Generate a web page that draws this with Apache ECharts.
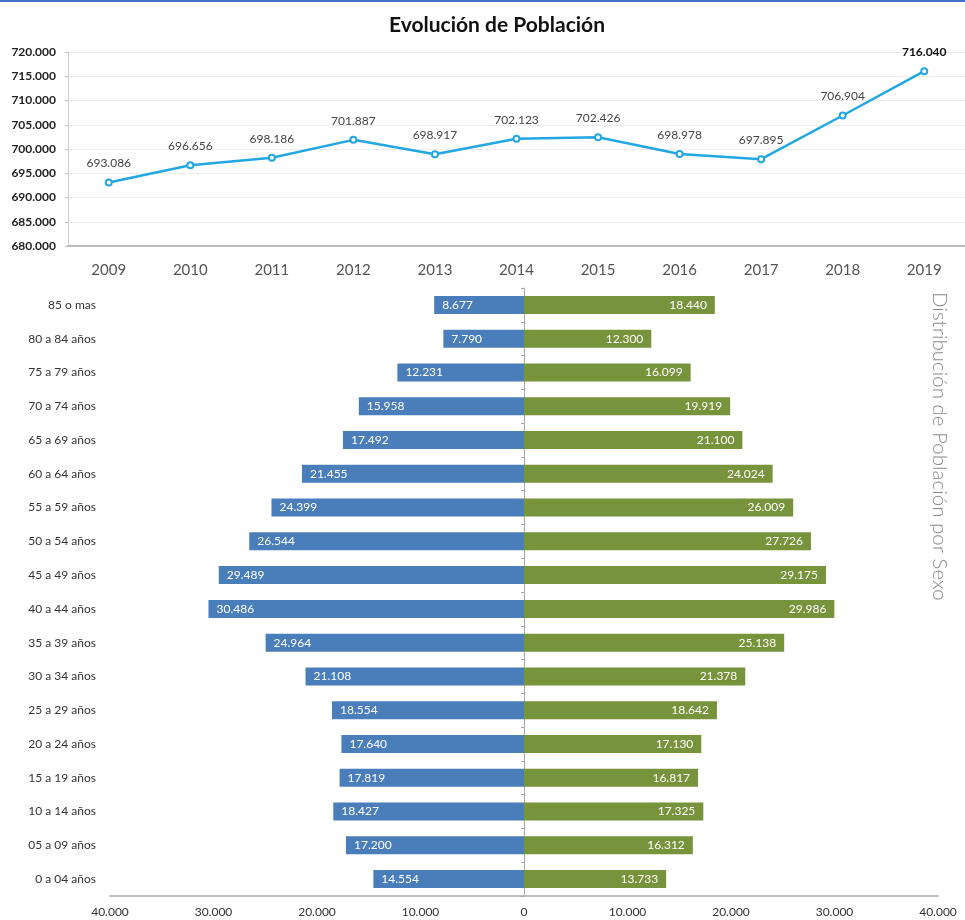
<!DOCTYPE html>
<html>
<head>
<meta charset="utf-8">
<script src="https://cdn.jsdelivr.net/npm/echarts@6/dist/echarts.min.js"></script>
<style>
  html, body { margin: 0; padding: 0; background: #fff; }
  #chart { width: 965px; height: 920px; }
</style>
</head>
<body>
<div id="chart"></div>
<script>
// evolución de población
var years = ['2009', '2010', '2011', '2012', '2013', '2014', '2015', '2016', '2017', '2018', '2019']
var poblacion = [693086, 696656, 698186, 701887, 698917, 702123, 702426, 698978, 697895, 706904, 716040]

// pirámide (de arriba a abajo)
var grupos = ['85 o mas', '80 a 84 años', '75 a 79 años', '70 a 74 años', '65 a 69 años', '60 a 64 años',
  '55 a 59 años', '50 a 54 años', '45 a 49 años', '40 a 44 años', '35 a 39 años', '30 a 34 años',
  '25 a 29 años', '20 a 24 años', '15 a 19 años', '10 a 14 años', '05 a 09 años', '0 a 04 años']
var hombres = [8677, 7790, 12231, 15958, 17492, 21455, 24399, 26544, 29489, 30486, 24964, 21108,
  18554, 17640, 17819, 18427, 17200, 14554]
var mujeres = [18440, 12300, 16099, 19919, 21100, 24024, 26009, 27726, 29175, 29986, 25138, 21378,
  18642, 17130, 16817, 17325, 16312, 13733]

function miles(n) {
  return String(Math.abs(n)).replace(/\B(?=(\d{3})+(?!\d))/g, '.')
}

var font = 'Lato'
var chart = echarts.init(document.getElementById('chart'))

var lineData = poblacion.map(function (v, i) {
  if (i === poblacion.length - 1) {
    return { value: v, label: { fontWeight: 'bold', color: '#111' } }
  }
  return v
})

chart.setOption({
  animation: false,
  textStyle: { fontFamily: font },
  title: {
    text: 'Evolución de Población',
    left: 384,
    top: 10,
    textStyle: { fontSize: 21, fontWeight: 'bold', color: '#111', fontFamily: font }
  },
  graphic: [
    { type: 'rect', left: 0, top: 0, shape: { width: 965, height: 2 }, style: { fill: '#4472c4' } },
    {
      type: 'text',
      left: 929,
      top: 292,
      rotation: -Math.PI / 2,
      style: {
        text: 'Distribución de Población por Sexo',
        fontSize: 20.5,
        fontWeight: 300,
        fontFamily: font,
        fill: '#8a8a8a'
      }
    }
  ],
  grid: [
    { left: 68, right: 0, top: 52, height: 194 },
    { left: 110, right: 27, top: 288, bottom: 24 }
  ],
  xAxis: [
    {
      gridIndex: 0,
      type: 'category',
      data: years,
      axisLine: { lineStyle: { color: '#bdbdbd', width: 2 } },
      axisTick: { length: 5, lineStyle: { color: '#9a9a9a' } },
      axisLabel: { fontSize: 15, color: '#555', margin: 17 }
    },
    {
      gridIndex: 1,
      type: 'value',
      min: -40000,
      max: 40000,
      interval: 10000,
      axisLine: { show: true, lineStyle: { color: '#bdbdbd', width: 2 } },
      axisTick: { show: false },
      splitLine: { show: false },
      axisLabel: { fontSize: 12, color: '#333', margin: 10, formatter: miles }
    }
  ],
  yAxis: [
    {
      gridIndex: 0,
      type: 'value',
      min: 680000,
      max: 720000,
      interval: 5000,
      axisLine: { show: true, lineStyle: { color: '#d0d0d0' } },
      axisTick: { show: true, length: 3, lineStyle: { color: '#c0c0c0' } },
      splitLine: { lineStyle: { color: '#ececec' } },
      axisLabel: { fontSize: 12, fontWeight: 'bold', color: '#222', margin: 12, formatter: miles }
    },
    {
      gridIndex: 1,
      type: 'category',
      data: grupos,
      inverse: true,
      position: 'left',
      axisLine: { show: false, onZero: false },
      axisTick: { show: false },
      axisLabel: { fontSize: 12, color: '#333', margin: 14 }
    },
    {
      gridIndex: 1,
      type: 'category',
      data: grupos,
      inverse: true,
      position: 'left',
      axisLine: { show: true, onZero: true, lineStyle: { color: '#a8a8a8' } },
      axisTick: { show: true, length: 3, lineStyle: { color: '#a8a8a8' } },
      axisLabel: { show: false }
    }
  ],
  series: [
    {
      name: 'Población',
      type: 'line',
      xAxisIndex: 0,
      yAxisIndex: 0,
      data: lineData,
      symbol: 'emptyCircle',
      symbolSize: 6,
      lineStyle: { color: '#22a7e3', width: 2.5 },
      itemStyle: { color: '#22a7e3', borderWidth: 1.2 },
      label: {
        show: true,
        position: 'top',
        distance: 9,
        fontSize: 12,
        color: '#444',
        formatter: function (p) { return miles(p.value) }
      }
    },
    {
      name: 'Hombres',
      type: 'bar',
      xAxisIndex: 1,
      yAxisIndex: 1,
      stack: 'piramide',
      barWidth: 18,
      data: hombres.map(function (v) { return -v }),
      itemStyle: { color: '#4a7ebb' },
      label: {
        show: true,
        position: 'insideLeft',
        distance: 8,
        fontSize: 12,
        color: '#fff',
        formatter: function (p) { return miles(p.value) }
      }
    },
    {
      name: 'Mujeres',
      type: 'bar',
      xAxisIndex: 1,
      yAxisIndex: 1,
      stack: 'piramide',
      barWidth: 18,
      data: mujeres,
      itemStyle: { color: '#77933c' },
      label: {
        show: true,
        position: 'insideRight',
        distance: 8,
        fontSize: 12,
        color: '#fff',
        formatter: function (p) { return miles(p.value) }
      }
    }
  ]
})
</script>
</body>
</html>
